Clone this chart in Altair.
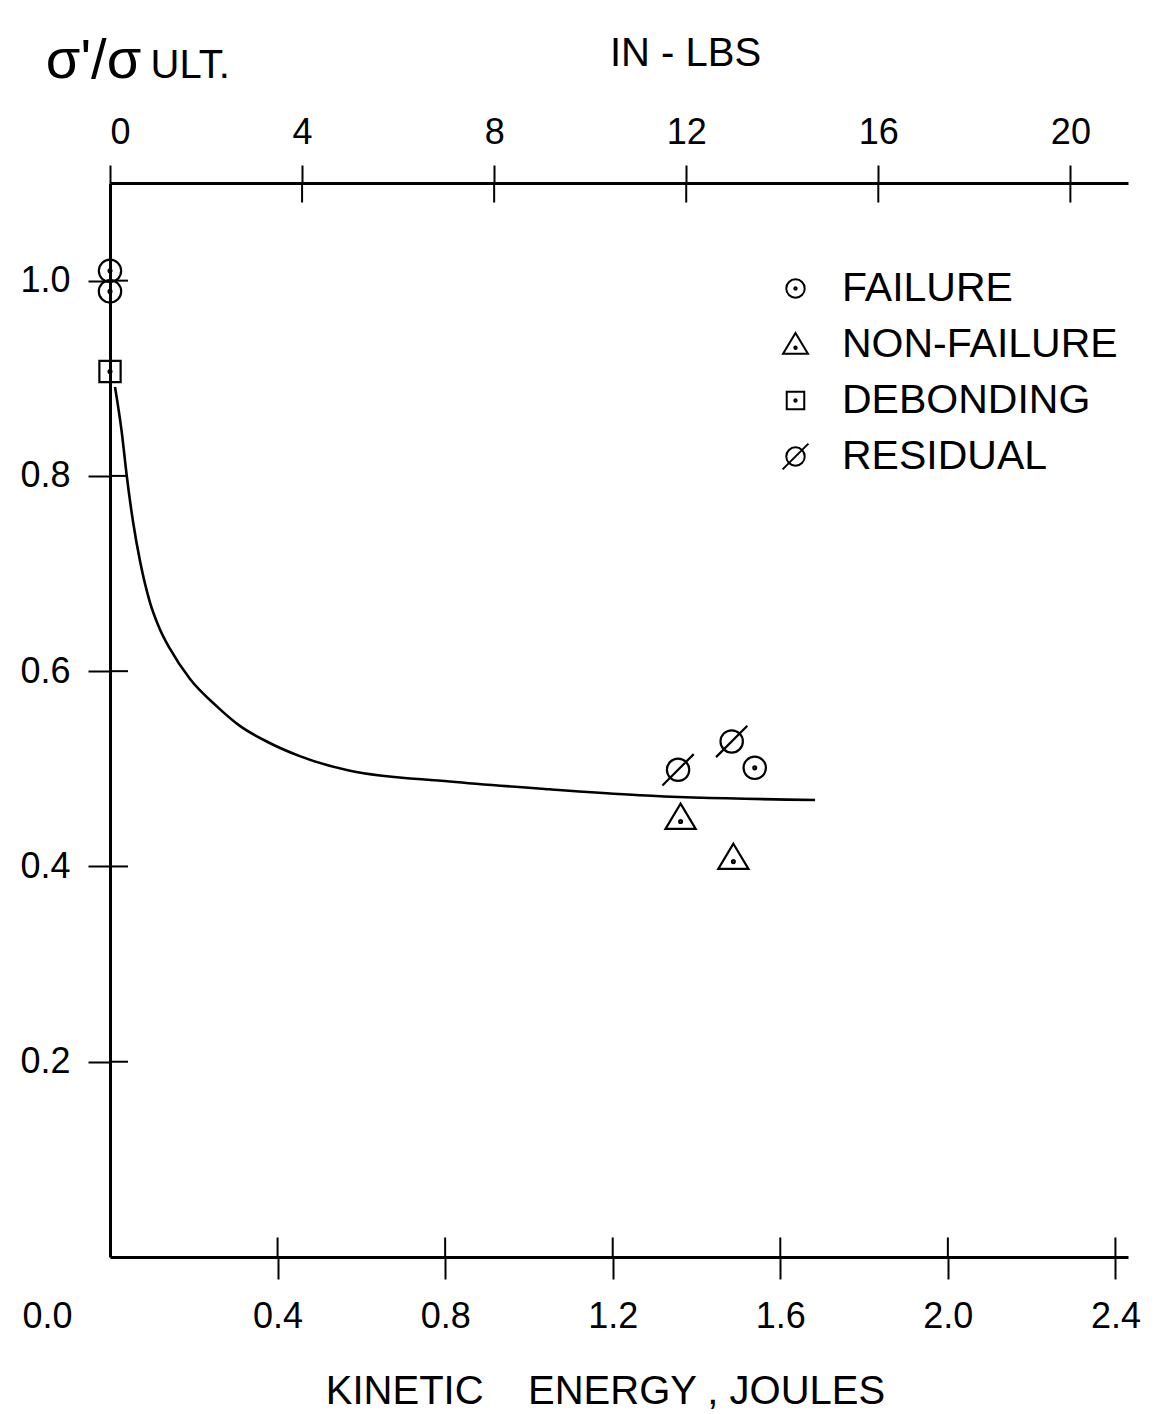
import altair as alt
import pandas as pd

# ---------------- data ----------------
curve_x = [0.012, 0.028, 0.040, 0.055, 0.072, 0.095, 0.119, 0.143, 0.191, 0.255,
           0.310, 0.374, 0.453, 0.573, 0.811, 1.050, 1.265, 1.683]
curve_y = [0.891, 0.845, 0.800, 0.753, 0.712, 0.671, 0.643, 0.623, 0.592, 0.564,
           0.544, 0.528, 0.513, 0.498, 0.487, 0.479, 0.473, 0.468]

pt_type = ["FAILURE", "FAILURE", "DEBONDING", "RESIDUAL", "RESIDUAL",
           "FAILURE", "NON-FAILURE", "NON-FAILURE"]
pt_x = [0.0, 0.0, 0.0, 1.356, 1.484, 1.539, 1.362, 1.488]
pt_y = [1.010, 0.989, 0.907, 0.499, 0.528, 0.501, 0.450, 0.409]

categories = ["FAILURE", "NON-FAILURE", "DEBONDING", "RESIDUAL"]

x_ticks = [0.0, 0.4, 0.8, 1.2, 1.6, 2.0, 2.4]          # joules
y_ticks = [0.2, 0.4, 0.6, 0.8, 1.0]
inlb_ticks = [0, 4, 8, 12, 16, 20]                      # in-lbs

X_MAX = 2.43
Y_MAX = 1.1
INLB_MAX = 21.2

# inward halves of the crossing tick marks (style lengths in data units)
TICK_IN_X = 0.043
TICK_IN_Y = 0.020

FONT = "Liberation Sans"

# ---------------- symbols ----------------
dot = "M-0.13,0A0.13,0.13,0,1,1,0.13,0A0.13,0.13,0,1,1,-0.13,0Z"
circle = "M-1,0A1,1,0,1,1,1,0A1,1,0,1,1,-1,0Z"
shapes = [
    circle + " " + dot,                                                    # failure
    "M0,-1.25L1.35,1.0L-1.35,1.0Z M-0.13,0.35A0.13,0.13,0,1,1,0.13,0.35A0.13,0.13,0,1,1,-0.13,0.35Z",  # non-failure
    "M-0.95,-0.95L0.95,-0.95L0.95,0.95L-0.95,0.95Z " + dot,               # debonding
    circle + " M-1.4,1.4L1.4,-1.4",                                        # residual
]

curve_df = pd.DataFrame({"x": curve_x, "y": curve_y})
pts_df = pd.DataFrame({"x": pt_x, "y": pt_y, "type": pt_type})
xt_df = pd.DataFrame({"x": x_ticks[1:], "y0": 0.0, "y1": TICK_IN_Y})
yt_df = pd.DataFrame({"y": y_ticks, "x0": 0.0, "x1": TICK_IN_X})
top_df = pd.DataFrame({"inlb": inlb_ticks[1:], "y0": Y_MAX, "y1": Y_MAX - TICK_IN_Y})

xscale = alt.Scale(domain=[0, X_MAX], nice=False, zero=False)
yscale = alt.Scale(domain=[0, Y_MAX], nice=False, zero=False)

x_axis = alt.Axis(
    orient="bottom", values=x_ticks, format=".1f", grid=False,
    labelFontSize=36, labelFont=FONT, labelColor="black", labelFlush=False,
    labelOffset={"condition": {"test": "datum.value === 0", "value": -63}, "value": 0},
    tickOpacity={"condition": {"test": "datum.value === 0", "value": 0}, "value": 1},
    labelPadding=20, tickSize=22, tickWidth=2, tickColor="black",
    domainWidth=3, domainColor="black",
    title="KINETIC\u00a0\u00a0\u00a0\u00a0ENERGY , JOULES", titleFont=FONT, titleFontSize=40,
    titleFontWeight="normal", titleColor="black",
    titleX=495, titleY=146, titleAlign="center", titleBaseline="alphabetic",
)
y_axis = alt.Axis(
    orient="left", values=y_ticks, format=".1f", grid=False,
    labelFontSize=36, labelFont=FONT, labelColor="black",
    labelPadding=18, tickSize=22, tickWidth=2, tickColor="black",
    domainWidth=3, domainColor="black",
    title="σ'/σ", titleFont=FONT, titleFontSize=56, titleFontWeight="normal",
    titleColor="black", titleAngle=0, titleX=-17, titleY=-106,
    titleAlign="center", titleBaseline="alphabetic",
)

curve = alt.Chart(curve_df).mark_line(
    color="black", strokeWidth=2.6, interpolate="monotone"
).encode(
    x=alt.X("x:Q", scale=xscale, axis=x_axis),
    y=alt.Y("y:Q", scale=yscale, axis=y_axis),
)

xt_rules = alt.Chart(xt_df).mark_rule(color="black", strokeWidth=2).encode(
    x=alt.X("x:Q", scale=xscale), y=alt.Y("y0:Q", scale=yscale), y2="y1:Q"
)
yt_rules = alt.Chart(yt_df).mark_rule(color="black", strokeWidth=2).encode(
    y=alt.Y("y:Q", scale=yscale), x=alt.X("x0:Q", scale=xscale), x2="x1:Q"
)

points = alt.Chart(pts_df).mark_point(
    filled=False, color="black", strokeWidth=2.2, size=500, opacity=1
).encode(
    x=alt.X("x:Q", scale=xscale),
    y=alt.Y("y:Q", scale=yscale),
    shape=alt.Shape(
        "type:N",
        scale=alt.Scale(domain=categories, range=shapes),
        legend=alt.Legend(
            title=None, orient="none", legendX=665, legendY=85,
            labelFont=FONT, labelFontSize=41, labelColor="black",
            symbolSize=340, symbolStrokeWidth=2, symbolStrokeColor="black",
            symbolFillColor="transparent", labelOffset=26, rowPadding=14,
            padding=0, labelLimit=500,
        ),
    ),
)

inner = alt.layer(curve, xt_rules, yt_rules, points)

top = alt.Chart(top_df).mark_rule(color="black", strokeWidth=2).encode(
    x=alt.X("inlb:Q", scale=alt.Scale(domain=[0, INLB_MAX], nice=False, zero=False),
            axis=alt.Axis(
                orient="top", values=inlb_ticks, format="d", grid=False,
                labelFontSize=36, labelFont=FONT, labelColor="black",
                labelPadding=14, tickSize=18, tickWidth=2, tickColor="black",
                domainWidth=3, domainColor="black",
                title="IN - LBS", titleFont=FONT, titleFontSize=40,
                titleFontWeight="normal", titleColor="black",
                titleX=575, titleY=-118, titleAlign="center", titleBaseline="alphabetic",
            )),
    y=alt.Y("y0:Q", scale=alt.Scale(domain=[0, Y_MAX], nice=False, zero=False),
            axis=alt.Axis(
                orient="right", labels=False, ticks=False, domain=False, grid=False,
                title="ULT.", titleFont=FONT, titleFontSize=40, titleFontWeight="normal",
                titleColor="black", titleAngle=0, titleX=-978, titleY=-106,
                titleAlign="left", titleBaseline="alphabetic",
            )),
    y2="y1:Q",
)

chart = alt.layer(inner, top).resolve_scale(x="independent", y="independent").properties(
    width=1018, height=1074,
    autosize=alt.AutoSizeParams(type="none"),
    padding={"left": 110, "top": 183, "right": 37, "bottom": 157},
    background="white",
).configure_view(stroke=None)

chart.save("out.html", embed_options={"renderer": "svg", "actions": False})
